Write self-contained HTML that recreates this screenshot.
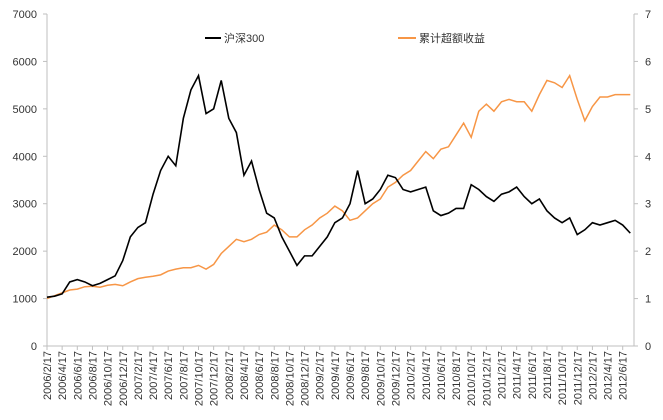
<!DOCTYPE html>
<html><head><meta charset="utf-8"><style>
body{margin:0;background:#fff;}
svg{display:block;font-family:"Liberation Sans","Noto Sans CJK SC",sans-serif;}
</style></head><body>
<svg id="chart" width="663" height="420" viewBox="0 0 663 420"></svg>
<script>
const months = [];
for (let i = 0; i <= 77; i++) { const m = 1 + i; months.push((2006 + Math.floor(m / 12)) + '/' + (m % 12 + 1) + '/17'); }
const hs300 = [1030,1050,1100,1350,1400,1350,1270,1320,1400,1480,1800,2300,2500,2600,3200,3700,4000,3800,4800,5400,5700,4900,5000,5600,4800,4500,3600,3900,3300,2800,2700,2300,2000,1700,1900,1900,2100,2300,2600,2700,3000,3700,3000,3100,3300,3600,3550,3300,3250,3300,3350,2850,2750,2800,2900,2900,3400,3300,3150,3050,3200,3250,3350,3150,3000,3100,2850,2700,2600,2700,2350,2450,2600,2550,2600,2650,2550,2380];
const excess = [1.0,1.06,1.12,1.18,1.2,1.25,1.26,1.24,1.28,1.3,1.27,1.35,1.42,1.45,1.47,1.5,1.58,1.62,1.65,1.65,1.7,1.62,1.72,1.95,2.1,2.25,2.2,2.25,2.35,2.4,2.55,2.45,2.3,2.3,2.45,2.55,2.7,2.8,2.95,2.85,2.65,2.7,2.85,3.0,3.1,3.35,3.45,3.6,3.7,3.9,4.1,3.95,4.15,4.2,4.45,4.7,4.4,4.95,5.1,4.95,5.15,5.2,5.15,5.15,4.95,5.3,5.6,5.55,5.45,5.7,5.2,4.75,5.05,5.25,5.25,5.3,5.3,5.3];
const leftTicks = [0,1000,2000,3000,4000,5000,6000,7000];
const rightTicks = [0,1,2,3,4,5,6,7];
const xLabels = [];
for (let i = 0; i <= 76; i += 2) xLabels.push(months[i]);

const svg = document.getElementById('chart');
const NS = 'http://www.w3.org/2000/svg';
const X0 = 47, DX = 7.575, Y0 = 346, YT = 14;
const x = i => X0 + i * DX;
const yL = v => Y0 - (v / 7000) * (Y0 - YT);
const yR = v => Y0 - (v / 7) * (Y0 - YT);
function mk(t, a) { const e = document.createElementNS(NS, t); for (const k in a) e.setAttribute(k, a[k]); svg.appendChild(e); return e; }

let e = mk('line', {x1: X0, y1: YT, x2: X0, y2: Y0, stroke: '#bfbfbf'});


e = mk('line', {x1: 634, y1: YT, x2: 634, y2: Y0, stroke: '#bfbfbf'});


e = mk('line', {x1: X0, y1: Y0, x2: 634, y2: Y0, stroke: '#bfbfbf'});



leftTicks.forEach(v => {
  const t = mk('text', {x: 37, y: yL(v) + 4, 'text-anchor': 'end', 'font-size': 11, fill: '#333'});
  t.textContent = v;
  
  
  mk('line', {x1: X0 - 4, y1: yL(v), x2: X0, y2: yL(v), stroke: '#bfbfbf'});
});
rightTicks.forEach(v => {
  const t = mk('text', {x: 645, y: yR(v) + 4, 'font-size': 11, fill: '#333'});
  t.textContent = v;
  
  
  mk('line', {x1: 634, y1: yR(v), x2: 638, y2: yR(v), stroke: '#bfbfbf'});
});
xLabels.forEach((s, k) => {
  const xx = x(k * 2);
  mk('line', {x1: xx, y1: Y0, x2: xx, y2: Y0 + 4, stroke: '#bfbfbf'});
  const t = mk('text', {x: 0, y: 0, 'text-anchor': 'end', 'font-size': 11, fill: '#333', transform: `translate(${xx + 4},${Y0 + 5}) rotate(-90)`});
  t.textContent = s;
  
  
});

e = mk('polyline', {points: excess.map((v, i) => x(i) + ',' + yR(v)).join(' '), fill: 'none', stroke: '#f79646', 'stroke-width': 1.5});


e = mk('polyline', {points: hs300.map((v, i) => x(i) + ',' + yL(v)).join(' '), fill: 'none', stroke: '#000', 'stroke-width': 1.6});



e = mk('line', {x1: 205, y1: 38, x2: 221, y2: 38, stroke: '#000', 'stroke-width': 2});


e = mk('text', {x: 224, y: 42, 'font-size': 11, fill: '#333'});
e.textContent = '沪深300';


e = mk('line', {x1: 398, y1: 38, x2: 416, y2: 38, stroke: '#f79646', 'stroke-width': 2});


e = mk('text', {x: 419, y: 42, 'font-size': 11, fill: '#333'});
e.textContent = '累计超额收益';


</script>
</body></html>
